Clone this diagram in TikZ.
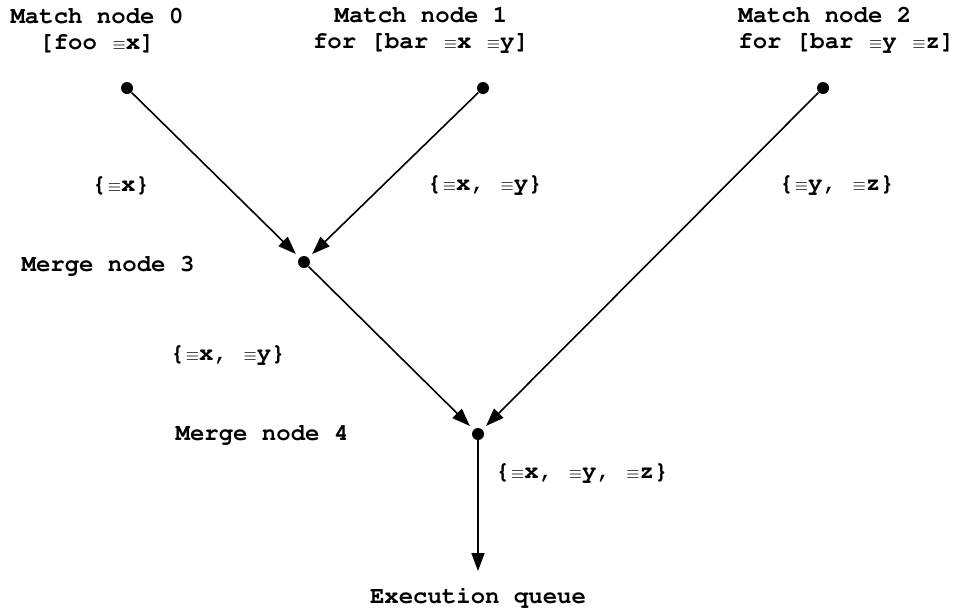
\documentclass[tikz,border=0pt]{standalone}
\usepackage[T1]{fontenc}
\usepackage{tikz}
\usetikzlibrary{arrows.meta,positioning}
\newcommand{\eqv}{\makebox[0.6em][r]{\fontsize{8.5}{8.5}\selectfont$\equiv$}}
\tikzset{
  dot/.style={circle,fill,inner sep=0pt,minimum size=6pt},
  edge/.style={-{Triangle[length=9pt,width=6.5pt]},line width=0.8pt,shorten >=2.5pt},
  lbl/.style={align=center,inner sep=0pt},
  every node/.style={font=\fontfamily{pcr}\fontseries{b}\fontsize{12}{13}\selectfont}
}
\begin{document}
\begin{tikzpicture}[x=0.5pt,y=-0.5pt]
\useasboundingbox (0,0) rectangle (963,607);
% match nodes
\node[dot] (m0) at (127,88) {};
\node[dot] (m1) at (483,88) {};
\node[dot] (m2) at (823,88) {};
\node[lbl] (m0l) at (97,30) {Match node 0\\{[}foo \eqv x]};
\node[lbl] (m1l) at (421,30) {Match node 1\\for [bar \eqv x \eqv y]};
\node[lbl,align=left,anchor=west] (m2l) at (738,30) {Match node 2\\for [bar \eqv y \eqv z]};
% merge nodes
\node[dot] (j3) at (304,262) {};
\node[dot] (j4) at (478,434) {};
\node[lbl] (j3l) at (108,266) {Merge node 3};
\node[lbl] (j4l) at (262,435) {Merge node 4};
% queue
\coordinate (qtip) at (478,571);
\node[lbl] (q) at (478,597) {Execution queue};
% edges
\draw[edge] (m0) -- (j3);
\draw[edge] (m1) -- (j3);
\draw[edge] (j3) -- (j4);
\draw[edge] (m2) -- (j4);
\draw[edge,shorten >=0pt] (j4) -- (qtip);
% token labels
\node[lbl] at (121,185) {\{\eqv x\}};
\node[lbl] at (485,185) {\{\eqv x, \eqv y\}};
\node[lbl] at (837,185) {\{\eqv y, \eqv z\}};
\node[lbl] at (228,355) {\{\eqv x, \eqv y\}};
\node[lbl] at (582,473) {\{\eqv x, \eqv y, \eqv z\}};
\end{tikzpicture}
\end{document}
